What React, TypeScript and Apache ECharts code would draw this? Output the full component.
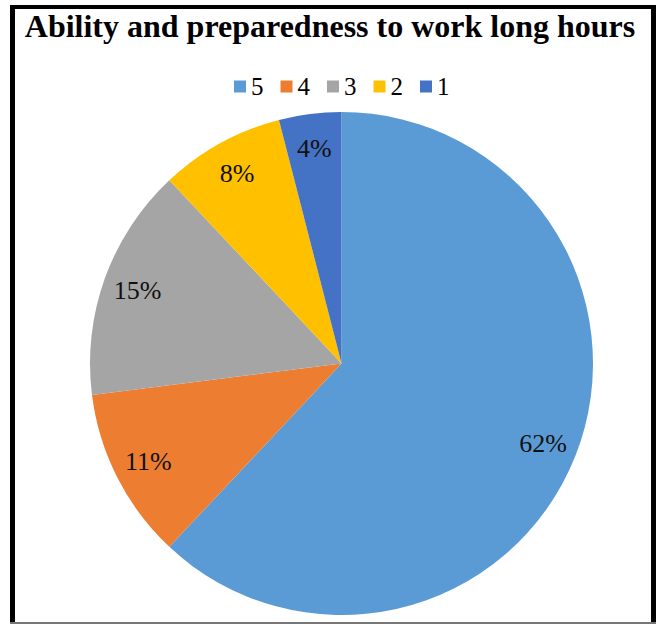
import React, { useEffect, useRef } from "react";
import * as echarts from "echarts";

const titleText = "Ability and preparedness to work long hours";
const categories = ["5", "4", "3", "2", "1"];
const shares = [62, 11, 15, 8, 4];
const colors = ["#5B9BD5", "#ED7D31", "#A5A5A5", "#FFC000", "#4472C4"];

export default function App() {
  const ref = useRef<HTMLDivElement>(null);
  useEffect(() => {
    if (!ref.current) return;
    const chart = echarts.init(ref.current, null, { renderer: "svg" });
    const data = categories.map((c, i) => ({
      name: c,
      value: shares[i],
      itemStyle: { color: colors[i] },
    }));
    const font = "Liberation Serif";
    chart.setOption({
      animation: false,
      backgroundColor: "#ffffff",
      title: {
        text: titleText,
        left: "center",
        top: 5,
        textStyle: {
          fontFamily: font,
          fontWeight: "bold",
          fontSize: 32,
          color: "#000",
        },
      },
      legend: {
        data: categories,
        left: 229,
        top: 69,
        itemWidth: 12,
        itemHeight: 12,
        itemGap: 17,
        icon: "rect",
        textStyle: { fontFamily: font, fontSize: 25, color: "#000" },
      },
      graphic: [
        { type: "rect", shape: { x: 10, y: 5, width: 646, height: 4 }, style: { fill: "#000" } },
        { type: "rect", shape: { x: 10, y: 5, width: 5, height: 619 }, style: { fill: "#000" } },
        { type: "rect", shape: { x: 651, y: 5, width: 5, height: 619 }, style: { fill: "#000" } },
        { type: "rect", shape: { x: 10, y: 622, width: 646, height: 2 }, style: { fill: "#777" } },
      ],
      series: [
        {
          type: "pie",
          center: [341.5, 363.5],
          radius: 251.5,
          startAngle: 90,
          clockwise: true,
          avoidLabelOverlap: false,
          label: { show: false },
          labelLine: { show: false },
          itemStyle: { borderWidth: 0 },
          data,
        },
        {
          type: "pie",
          center: [341.5, 363.5],
          radius: [176, 251.5],
          startAngle: 90,
          clockwise: true,
          silent: true,
          avoidLabelOverlap: false,
          legendHoverLink: false,
          itemStyle: { color: "rgba(0,0,0,0)", borderWidth: 0 },
          label: {
            show: true,
            position: "inside",
            formatter: "{c}%",
            fontFamily: font,
            fontSize: 26,
            color: "#111",
          },
          labelLine: { show: false },
          data: categories.map((c, i) => ({ name: c + " ", value: shares[i] })),
        },
      ],
    });
    return () => chart.dispose();
  }, []);
  return (
    <div
      ref={ref}
      style={{ position: "absolute", left: 0, top: 0, width: 660, height: 624 }}
    />
  );
}
